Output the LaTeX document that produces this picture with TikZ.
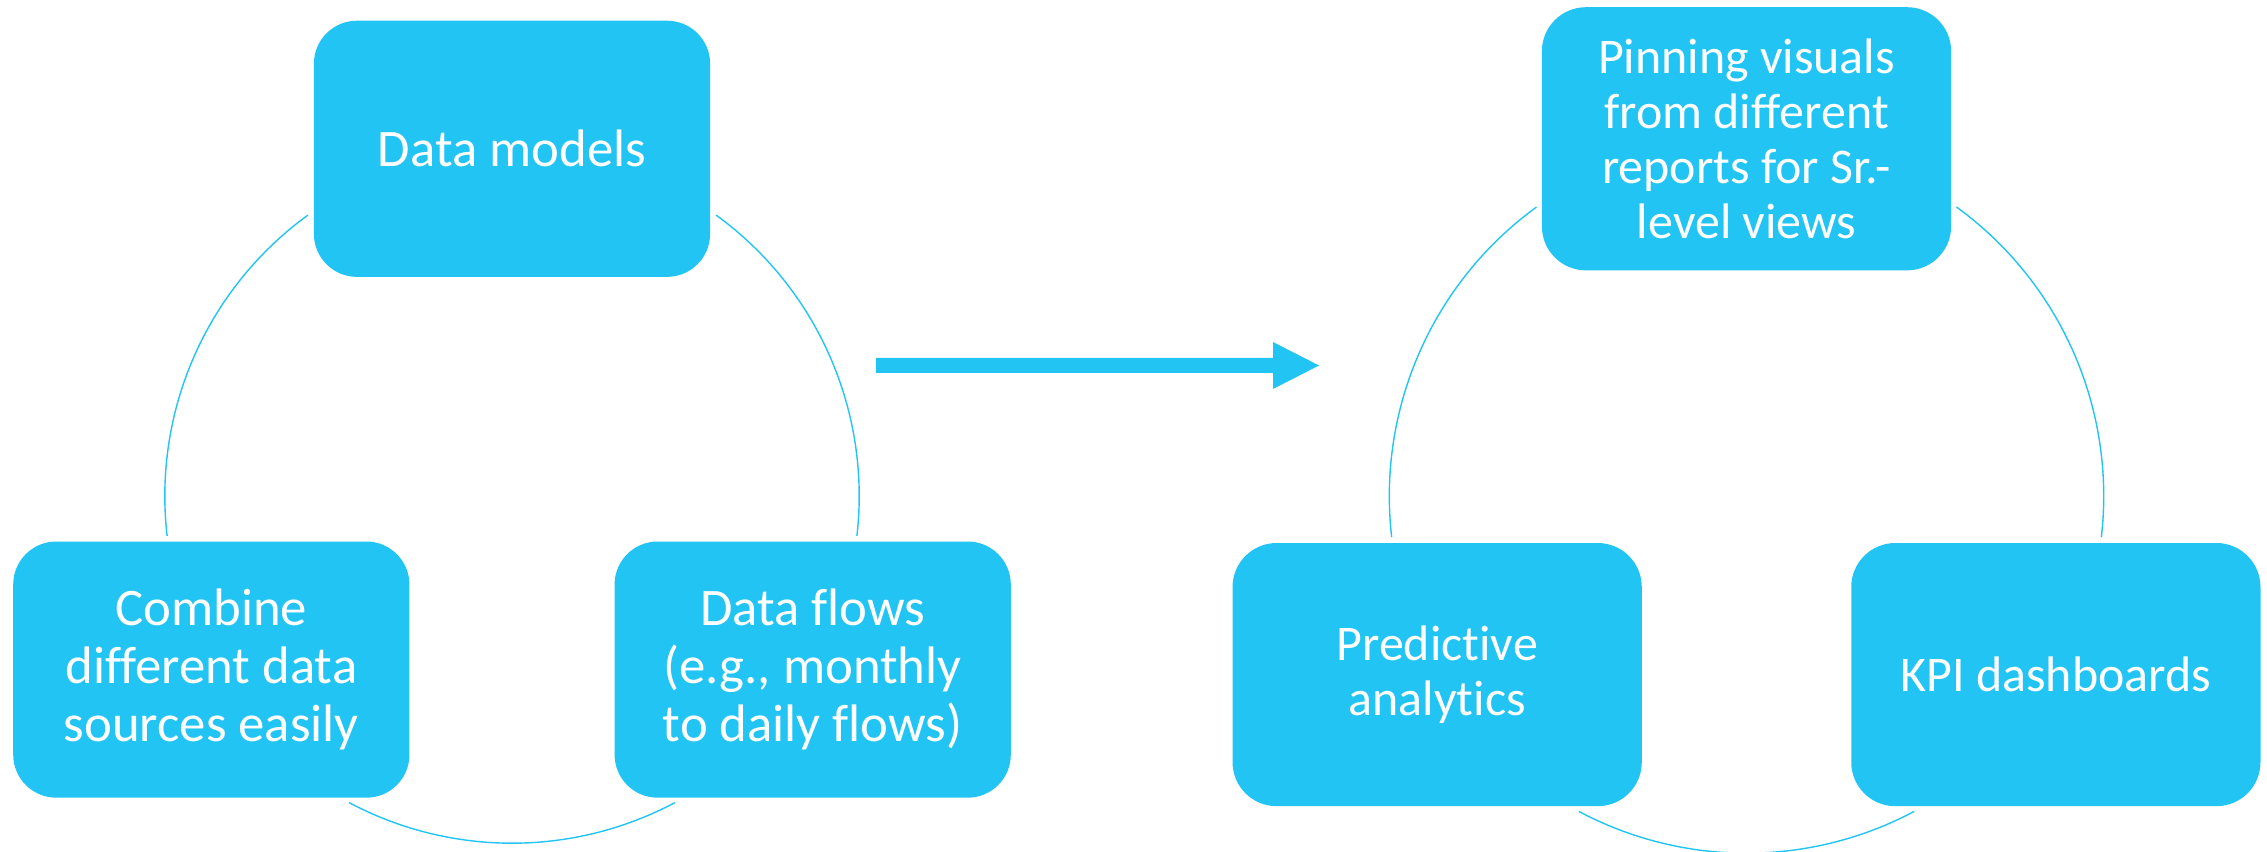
\documentclass[tikz,border=0pt]{standalone}
\usepackage{fontspec}
\setmainfont[Ligatures=CommonOff]{Carlito}
\usetikzlibrary{calc}
\definecolor{skyblue}{RGB}{34,196,243}
\begin{document}
\begin{tikzpicture}[x=0.01cm,y=0.01cm,
  box/.style={fill=skyblue,draw=none,text=white,align=center,inner sep=0pt},
  leftbox/.style={box,minimum width=3.96cm,minimum height=2.56cm,rounded corners=0.43cm,
    font=\fontsize{15pt}{16.5pt}\selectfont},
  rightbox/.style={box,minimum width=4.09cm,minimum height=2.63cm,rounded corners=0.44cm,
    font=\fontsize{14.2pt}{15.7pt}\selectfont},
  ring/.style={draw=skyblue,line width=0.4pt}]
\useasboundingbox (0,0) rectangle (2267,852);

% centres of the two cycles
\coordinate (lc) at (512,356);
\coordinate (rc) at (1746.5,356);

% left cycle: arcs on the circle through the box centres
\draw[ring] ($(lc)+(126:3.47cm)$) arc[start angle=126,end angle=186.6,radius=3.47cm];
\draw[ring] ($(lc)+(242:3.47cm)$) arc[start angle=242,end angle=298,radius=3.47cm];
\draw[ring] ($(lc)+(-6.6:3.47cm)$) arc[start angle=-6.6,end angle=54,radius=3.47cm];

% right cycle arcs
\draw[ring] ($(rc)+(126:3.57cm)$) arc[start angle=126,end angle=186.6,radius=3.57cm];
\draw[ring] ($(rc)+(242:3.57cm)$) arc[start angle=242,end angle=298,radius=3.57cm];
\draw[ring] ($(rc)+(-6.6:3.57cm)$) arc[start angle=-6.6,end angle=54,radius=3.57cm];

% left cycle boxes
\node[leftbox] (models) at ($(lc)+(90:3.47cm)$) {Data models};
\node[leftbox] (combine) at ($(lc)+(210:3.47cm)$) {Combine\\different data\\sources easily};
\node[leftbox] (flows) at ($(lc)+(330:3.47cm)$) {Data flows\\(e.g., monthly\\to daily flows)};

% right cycle boxes
\node[rightbox] (pinning) at ($(rc)+(90:3.57cm)$) {Pinning visuals\\from different\\reports for Sr.-\\level views};
\node[rightbox] (predict) at ($(rc)+(210:3.57cm)$) {Predictive\\analytics};
\node[rightbox] (kpi) at ($(rc)+(330:3.57cm)$) {KPI dashboards};

% block arrow between the two cycles
\coordinate (arrowtail) at (876,486.5);
\coordinate (arrowtip) at (1319,486.5);
\fill[skyblue] ($(arrowtail)+(0,-7.5)$) -- (1273,479) -- (1273,463) -- (arrowtip)
  -- (1273,510) -- (1273,494) -- ($(arrowtail)+(0,7.5)$) -- cycle;
\end{tikzpicture}
\end{document}
